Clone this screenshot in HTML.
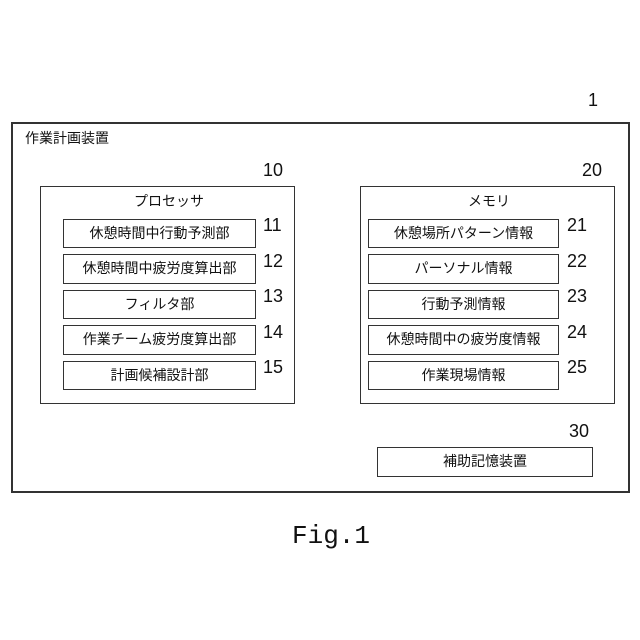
<!DOCTYPE html>
<html><head><meta charset="utf-8"><style>
body{margin:0;width:640px;height:640px;background:#fff;position:relative;font-family:"Liberation Sans","Noto Sans CJK JP",sans-serif;color:#111;overflow:hidden}
.b{position:absolute;border:1.5px solid #333;box-sizing:border-box}
.i{position:absolute;border:1.5px solid #333;box-sizing:border-box;font-size:14px;text-align:center;line-height:26px}
.t{position:absolute;font-size:14px;white-space:nowrap}
.n{position:absolute;font-size:18px;white-space:nowrap}
</style></head><body>
<div class="b" style="left:11px;top:122px;width:619px;height:371px;border-width:2px"></div>
<div class="t" style="left:25px;top:128px">作業計画装置</div>
<div class="n" style="left:588px;top:90px">1</div>
<div class="b" style="left:40px;top:186px;width:255px;height:218px"></div>
<div class="t" style="left:134px;top:191px">プロセッサ</div>
<div class="n" style="left:263px;top:160px">10</div>
<div class="i" style="left:63px;top:219px;width:193px;height:29px">休憩時間中行動予測部</div>
<div class="i" style="left:63px;top:254px;width:193px;height:30px">休憩時間中疲労度算出部</div>
<div class="i" style="left:63px;top:290px;width:193px;height:29px">フィルタ部</div>
<div class="i" style="left:63px;top:325px;width:193px;height:30px">作業チーム疲労度算出部</div>
<div class="i" style="left:63px;top:361px;width:193px;height:29px">計画候補設計部</div>
<div class="n" style="left:263px;top:215px">11</div>
<div class="n" style="left:263px;top:251px">12</div>
<div class="n" style="left:263px;top:286px">13</div>
<div class="n" style="left:263px;top:322px">14</div>
<div class="n" style="left:263px;top:357px">15</div>
<div class="b" style="left:360px;top:186px;width:255px;height:218px"></div>
<div class="t" style="left:468px;top:191px">メモリ</div>
<div class="n" style="left:582px;top:160px">20</div>
<div class="i" style="left:368px;top:219px;width:191px;height:29px">休憩場所パターン情報</div>
<div class="i" style="left:368px;top:254px;width:191px;height:30px">パーソナル情報</div>
<div class="i" style="left:368px;top:290px;width:191px;height:29px">行動予測情報</div>
<div class="i" style="left:368px;top:325px;width:191px;height:30px">休憩時間中の疲労度情報</div>
<div class="i" style="left:368px;top:361px;width:191px;height:29px">作業現場情報</div>
<div class="n" style="left:567px;top:215px">21</div>
<div class="n" style="left:567px;top:251px">22</div>
<div class="n" style="left:567px;top:286px">23</div>
<div class="n" style="left:567px;top:322px">24</div>
<div class="n" style="left:567px;top:357px">25</div>
<div class="n" style="left:569px;top:421px">30</div>
<div class="i" style="left:377px;top:447px;width:216px;height:30px">補助記憶装置</div>
<div style="position:absolute;left:292px;top:521px;font-family:'Liberation Mono',monospace;font-size:26px">Fig.1</div>
</body></html>
